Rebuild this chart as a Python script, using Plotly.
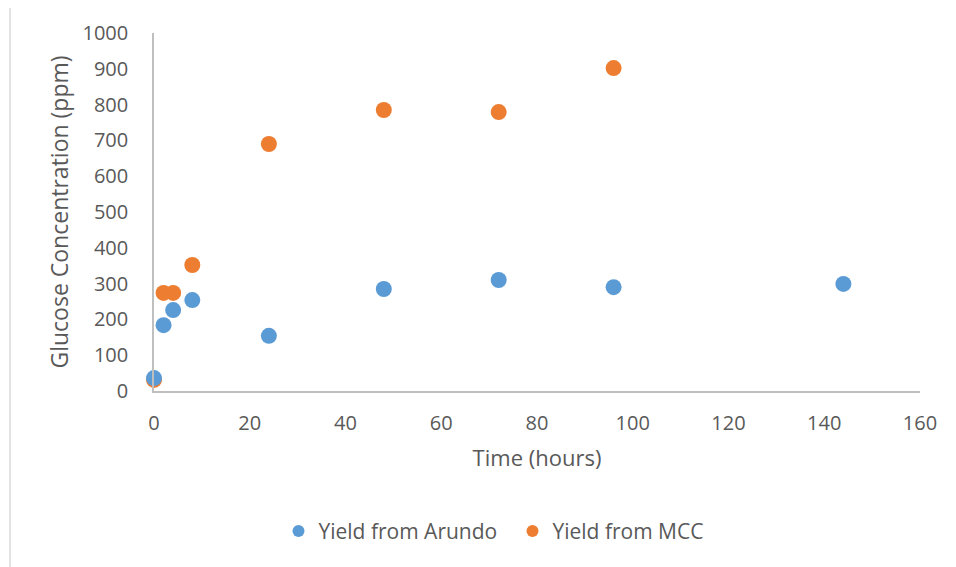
import plotly.graph_objects as go

time_arundo = [0, 2, 4, 8, 24, 48, 72, 96, 144]
yield_arundo = [36, 184, 226, 254, 154, 285, 310, 290, 299]
time_mcc = [0, 2, 4, 8, 24, 48, 72, 96]
yield_mcc = [31, 274, 274, 352, 690, 785, 779, 902]

font_family = "Open Sans, Noto Sans, sans-serif"
txt = "#595959"

fig = go.Figure()
fig.add_trace(go.Scatter(x=time_mcc, y=yield_mcc, mode="markers", name="Yield from MCC",
                         marker=dict(color="#ED7D31", size=16), cliponaxis=False))
fig.add_trace(go.Scatter(x=time_arundo, y=yield_arundo, mode="markers", name="Yield from Arundo",
                         marker=dict(color="#5B9BD5", size=16), cliponaxis=False))

fig.update_layout(
    width=948, height=559,
    margin=dict(l=146, r=36, t=25, b=176),
    plot_bgcolor="white", paper_bgcolor="white",
    font=dict(family=font_family, color=txt, size=20),
    showlegend=True,
    legend=dict(orientation="h", x=0.468, xanchor="center", y=-0.392, yanchor="middle",
                traceorder="reversed", font=dict(size=21, color=txt), itemsizing="constant",
                entrywidth=189, entrywidthmode="pixels"),
    xaxis=dict(range=[0, 160], dtick=20, showgrid=False, zeroline=False,
               showline=True, linecolor="#BFBFBF", linewidth=1.5,
               ticks="", ticklabelstandoff=13, tickfont=dict(size=20),
               title=dict(text="Time (hours)", font=dict(size=22, color=txt), standoff=16)),
    yaxis=dict(range=[0, 1000], dtick=100, showgrid=False, zeroline=False,
               showline=True, linecolor="#BFBFBF", linewidth=1.5,
               ticks="", ticklabelstandoff=20, tickfont=dict(size=20),
               title=dict(text="Glucose Concentration (ppm)", font=dict(size=23, color=txt), standoff=7)),
    shapes=[dict(type="rect", xref="paper", yref="paper",
                 x0=-0.188, x1=3, y0=-3, y1=1.078,
                 line=dict(color="#D9D9D9", width=1.5), fillcolor="rgba(0,0,0,0)", layer="below")],
)

fig.write_html("out.html")
